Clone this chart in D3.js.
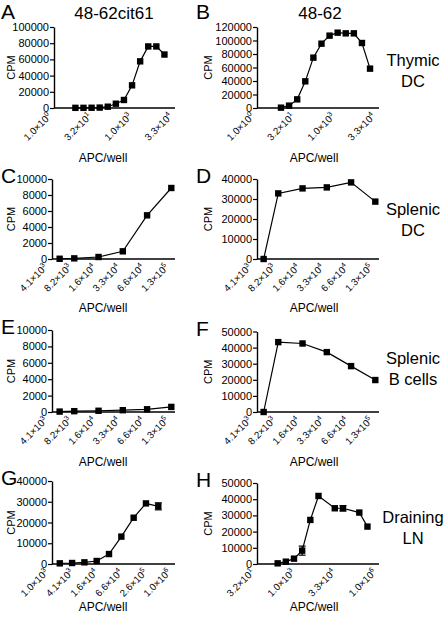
<!DOCTYPE html>
<html><head><meta charset="utf-8">
<script src="https://cdn.jsdelivr.net/npm/d3@7"></script>
<style>
body{margin:0;background:#fff}
svg{display:block}
text{font-family:"Liberation Sans",Arial,Helvetica,sans-serif;fill:#000}
</style>
</head><body>
<svg id="chart" width="444" height="619"></svg>
<script>
// ---------------- data ----------------
const colTitles = ["48-62cit61", "48-62"];
const rowLabels = [["Thymic","DC"],["Splenic","DC"],["Splenic","B cells"],["Draining","LN"]];
const panelLetters = ["A","B","C","D","E","F","G","H"];

const aApc = [6.25,12.5,25,50,100,200,400,800,1600,3200,6400,12800];
const aCpm = [200,200,300,500,1600,5300,9900,28000,57600,76000,76000,66000];
const bApc = [7.8,15.6,31.25,62.5,125,250,500,1000,2000,4000,8000,16000];
const bCpm = [500,3500,12800,39500,74600,95300,107200,111600,110600,110600,96300,58300];
const splenicApc = [5400,8200,16400,32800,65600,131000];
const cCpm = [30,80,250,960,5460,8875];
const dCpm = [0,32800,35300,35800,38300,28700];
const eCpm = [50,100,150,220,330,620];
const fCpm = [0,43400,42550,37200,28500,19850];
const gApc = [1640,3280,6560,13100,26200,52500,105000,210000,420000];
const gCpm = [320,480,800,1450,4800,13200,22300,29200,27800];
const gErr = [0,0,0,0,0,0,0,0,1700];
const hApc = [183,366,732,1465,2930,5860,23400,46900,188000,375000];
const hCpm = [410,1440,3300,8250,27200,42000,34400,34400,31750,23100];
const hErr = [0,0,0,2800,0,0,0,1650,0,0];

const thymicTicks = [1,31.6,1000,31623];
const thymicTickLabels = ["1.0×10^0","3.2×10^1","1.0×10^3","3.3×10^4"];
const splenicTicks = [4100,8200,16400,32800,65600,131000];
const splenicTickLabels = ["4.1×10^3","8.2×10^3","1.6×10^4","3.3×10^4","6.6×10^4","1.3×10^5"];
const gTicks = [1000,4100,16400,65600,262000,1000000];
const gTickLabels = ["1.0×10^3","4.1×10^3","1.6×10^4","6.6×10^4","2.6×10^5","1.0×10^6"];
const hTicks = [31.6,1000,31623,1000000];
const hTickLabels = ["3.2×10^1","1.0×10^3","3.3×10^4","1.0×10^6"];

const yTicksA = [0,20000,40000,60000,80000,100000];
const yTicksB = [0,20000,40000,60000,80000,100000,120000];
const yTicksCE = [0,2000,4000,6000,8000,10000];
const yTicksDG = [0,10000,20000,30000,40000];
const yTicksFH = [0,10000,20000,30000,40000,50000];

const xLabel = "APC/well";
const yLabel = "CPM";

// ---------------- layout ----------------
const panels = [
  {x:aApc, y:aCpm, xt:thymicTicks, xl:thymicTickLabels, yt:yTicksA, ax:54, top:27, bot:108, xr:[54,175], end:175, lab:162},
  {x:bApc, y:bCpm, xt:thymicTicks, xl:thymicTickLabels, yt:yTicksB, ax:257, top:27, bot:108, xr:[257,378], end:379, lab:162},
  {x:splenicApc, y:cCpm, xt:splenicTicks, xl:splenicTickLabels, yt:yTicksCE, ax:52, top:179, bot:259, xr:[50,171.3], end:175, lab:312},
  {x:splenicApc, y:dCpm, xt:splenicTicks, xl:splenicTickLabels, yt:yTicksDG, ax:257, top:179, bot:259, xr:[254,375.3], end:379, lab:312},
  {x:splenicApc, y:eCpm, xt:splenicTicks, xl:splenicTickLabels, yt:yTicksCE, ax:52, top:330, bot:412, xr:[50,171.3], end:175, lab:466},
  {x:splenicApc, y:fCpm, xt:splenicTicks, xl:splenicTickLabels, yt:yTicksFH, ax:257, top:331.5, bot:412, xr:[254,375.3], end:379, lab:466},
  {x:gApc, y:gCpm, e:gErr, xt:gTicks, xl:gTickLabels, yt:yTicksDG, ax:52, top:481, bot:564, xr:[51,173.7], end:175, lab:611},
  {x:hApc, y:hCpm, e:hErr, xt:hTicks, xl:hTickLabels, yt:yTicksFH, ax:257, top:483, bot:564, xr:[257,379], end:379, lab:611}
];
const colLetterX = [1, 196];
const colXLabelX = [103, 314];
const colYLabelX = [11, 208];

const svg = d3.select("#chart");

// column titles
svg.selectAll("text.title").data(colTitles).join("text")
  .attr("class","title")
  .attr("x",(d,i)=>[114,320][i]).attr("y",19)
  .attr("text-anchor","middle").attr("font-size",17).text(d=>d);

// row labels
rowLabels.forEach((lines,r)=>{
  const baseY = [66,215,364,523][r];
  lines.forEach((t,k)=>{
    svg.append("text").attr("x",413).attr("y",baseY+k*21)
      .attr("text-anchor","middle").attr("font-size",16.5).text(t);
  });
});

panels.forEach((p,i)=>{
  const col = i%2;
  const g = svg.append("g");
  const xs = d3.scaleLog().domain([p.xt[0], p.xt[p.xt.length-1]]).range(p.xr);
  const ys = d3.scaleLinear().domain([0, p.yt[p.yt.length-1]]).range([p.bot, p.top]);

  // panel letter
  svg.append("text").attr("x",colLetterX[col]).attr("y",p.top-8+ (i<2?0:12))
    .attr("font-size",21).text(panelLetters[i]);

  // y axis
  const yAxis = d3.axisLeft(ys).tickValues(p.yt).tickSize(4).tickSizeOuter(0).tickPadding(1)
    .tickFormat(d3.format("d"));
  const yg = g.append("g").attr("transform",`translate(${p.ax},0)`).call(yAxis);
  yg.select(".domain").attr("stroke-width",1.4);
  yg.selectAll(".tick line").attr("stroke-width",1.2);
  yg.selectAll(".tick text").attr("font-size",11).attr("font-family",'"Liberation Sans",Arial,sans-serif');

  // x axis line
  g.append("line").attr("x1",p.ax).attr("x2",p.end).attr("y1",ys(0)).attr("y2",ys(0))
    .attr("stroke","#000").attr("stroke-width",1.4);

  // x tick labels (rotated)
  p.xt.forEach((t,k)=>{
    const parts = p.xl[k].split("^");
    const tx = g.append("text")
      .attr("transform",`translate(${xs(t)-2},${ys(0)+9}) rotate(-45)`)
      .attr("text-anchor","end").attr("font-size",9.8);
    tx.append("tspan").text(parts[0]);
    tx.append("tspan").attr("font-size",7).attr("dy",-4).text(parts[1]);
  });

  // axis titles
  svg.append("text").attr("x",colXLabelX[col]).attr("y",p.lab)
    .attr("text-anchor","middle").attr("font-size",12).text(xLabel);
  svg.append("text")
    .attr("transform",`translate(${colYLabelX[col]+4},${(p.top+p.bot)/2}) rotate(-90)`)
    .attr("text-anchor","middle").attr("font-size",11).text(yLabel);

  const pts = p.x.map((v,k)=>({x:v, y:p.y[k], e:p.e?p.e[k]:0}));

  // line
  g.append("path").datum(pts)
    .attr("d", d3.line().x(d=>xs(d.x)).y(d=>ys(d.y)))
    .attr("fill","none").attr("stroke","#000").attr("stroke-width",1.2);

  // error bars
  pts.filter(d=>d.e>0).forEach(d=>{
    const cx = xs(d.x);
    g.append("line").attr("x1",cx).attr("x2",cx).attr("y1",ys(d.y-d.e)).attr("y2",ys(d.y+d.e))
      .attr("stroke","#000").attr("stroke-width",1.2);
    [d.y-d.e, d.y+d.e].forEach(v=>{
      g.append("line").attr("x1",cx-3.5).attr("x2",cx+3.5).attr("y1",ys(v)).attr("y2",ys(v))
        .attr("stroke","#000").attr("stroke-width",1.2);
    });
  });

  // markers
  g.selectAll("rect.m").data(pts).join("rect").attr("class","m")
    .attr("x",d=>xs(d.x)-3.2).attr("y",d=>ys(d.y)-3.2)
    .attr("width",6.4).attr("height",6.4).attr("fill","#000");
});
</script>
</body></html>
